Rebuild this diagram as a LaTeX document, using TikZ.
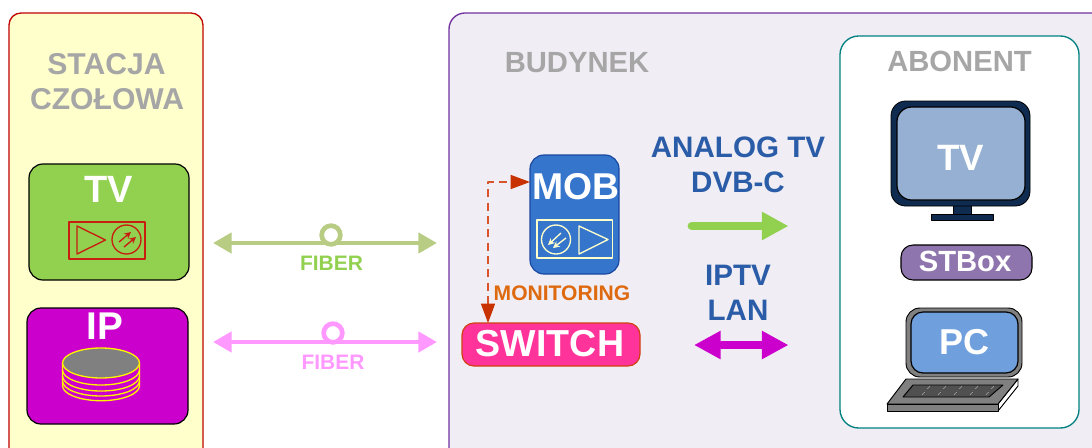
\documentclass[tikz,border=0pt]{standalone}
\usepackage{fontspec}
\setmainfont{Liberation Sans}
\usetikzlibrary{arrows.meta,calc}
\definecolor{pgreen}{HTML}{92D050}
\definecolor{pmag}{HTML}{CC00CC}
\definecolor{pfibg}{HTML}{B8CC84}
\definecolor{pfibp}{HTML}{FF99FF}
\definecolor{pblue}{HTML}{2A5CA8}
\definecolor{pgrey}{HTML}{A6A6A6}
\definecolor{pnavy}{HTML}{0F2B50}
\definecolor{pdash}{HTML}{C83200}
\definecolor{pline}{HTML}{D8542A}
\definecolor{pamp}{HTML}{C81E10}
\definecolor{pcream}{HTML}{FFFFCC}
\tikzset{
  lab/.style={font=\fontsize{#1}{#1}\selectfont\bfseries,anchor=base,inner sep=0pt,outer sep=0pt},
  head/.style={lab=21.9,text=pgrey},
  blue label/.style={lab=22.2,text=pblue},
  boxnode/.style={rectangle,inner sep=0pt,outer sep=0pt,anchor=north west},
  ring/.style={circle,draw=#1,line width=3.5pt,fill=white,minimum size=14pt,inner sep=0pt},
  fibertip/.tip={Triangle[length=14pt,width=15pt]},
  fatttip/.tip={Triangle[length=20pt,width=20pt]},
  dashtip/.tip={Triangle[length=14.5pt,width=10.5pt,fill=pdash,color=pdash]},
}
% #1 name, #2 x0, #3 y0, #4 x1, #5 y1, #6 options
\newcommand{\pxbox}[6]{\path let \p1=($(#4,#5)-(#2,#3)$) in node[boxnode,minimum width=abs(\x1),minimum height=abs(\y1),#6] (#1) at (#2,#3) {};}
\begin{document}
\begin{tikzpicture}[x=0.75pt,y=-0.75pt,line join=round]
\useasboundingbox (0,0) rectangle (1092,447);
\clip (0,0) rectangle (1092,447);
\fill[white] (0,0) rectangle (1092,447);
% panels
\pxbox{stacja}{9}{13}{203}{470}{draw={rgb,255:red,192;green,0;blue,0},line width=1pt,fill={rgb,255:red,255;green,255;blue,204},rounded corners=9pt}
\pxbox{budynek}{449}{13}{1130}{470}{draw={rgb,255:red,112;green,48;blue,160},line width=1pt,fill={rgb,255:red,240;green,238;blue,244},rounded corners=12pt}
\pxbox{abonent}{840}{36}{1079}{428}{draw={rgb,255:red,0;green,128;blue,128},line width=1pt,fill=white,rounded corners=14pt}
% headings
\node[head,lab=22.6,text=pgrey] (h1) at (106.5,74.5) {STACJA};
\node[head,lab=22.6,text=pgrey] (h2) at (107,109.5) {CZOŁOWA};
\node[head] (h3) at (577,72) {BUDYNEK};
\node[head] (h4) at (959.5,71) {ABONENT};
% TV box
\pxbox{tvbox}{29}{164}{189}{280}{draw=black,line width=0.9pt,fill=pgreen,rounded corners=10.5pt}
\node[lab=28.5,text=white] (tvtxt) at (109,202) {TV};
\pxbox{ampA}{69}{222}{145}{259}{draw=pamp,line width=1pt}
\draw[pamp,line width=1pt] (77,226) -- (105.5,240) -- (77,254) -- cycle;
\draw[pamp,line width=1pt] (126.5,239.5) circle[radius=14.5];
\draw[pamp,line width=1pt,-{Stealth[length=5pt,width=5pt]}] (119,242) -- (131,232);
\draw[pamp,line width=1pt,-{Stealth[length=5pt,width=5pt]}] (124,247) -- (136,237);
% IP box
\pxbox{ipbox}{27}{308}{188}{424}{draw=black,line width=0.9pt,fill=pmag,rounded corners=10.5pt}
\node[lab=29,text=white] (iptxt) at (105,339.3) {IP};
\draw[yellow,line width=1pt,fill=pmag] (62.5,363) -- (62.5,385.7) arc[start angle=180,end angle=0,x radius=38.5,y radius=15] -- (139.5,363);
\foreach \yy in {381,376,370}{
  \draw[yellow,line width=1pt] (62.5,\yy) arc[start angle=180,end angle=0,x radius=38.5,y radius=15];
}
\draw[yellow,line width=1pt,fill={rgb,255:red,128;green,128;blue,128}] (101,363) ellipse[x radius=38.5,y radius=15];
% fiber links
\coordinate (g1) at (213,243);
\coordinate (g2) at (437,243);
\coordinate (p1) at (213,342);
\coordinate (p2) at (437,342);
\draw[pfibg,line width=3.3pt,{fibertip}-{fibertip}] (g1) -- (g2);
\node[ring=pfibg] (gc) at (331,235) {};
\node[lab=15.7,text=pgreen] (f1) at (331.5,270) {FIBER};
\draw[pfibp,line width=3.3pt,{fibertip}-{fibertip}] (p1) -- (p2);
\node[ring=pfibp] (pc) at (333,333) {};
\node[lab=15.7,text=pfibp] (f2) at (333,369) {FIBER};
% MOB
\pxbox{mob}{530}{155}{619}{274}{draw={rgb,255:red,26;green,72;blue,160},line width=0.9pt,fill={rgb,255:red,53;green,117;blue,204},rounded corners=10.5pt}
\node[lab=28,text=white] (mobtxt) at (576,199.3) {MOB};
\pxbox{ampB}{537}{220}{612.7}{258}{draw=pcream,line width=1pt}
\draw[pcream,line width=1pt] (579,226) -- (608,239.5) -- (579,254) -- cycle;
\draw[pcream,line width=1pt] (556,239.5) circle[radius=14.5];
\draw[pcream,line width=1pt,-{Stealth[length=5pt,width=5pt]}] (561,233) -- (548,245);
\draw[pcream,line width=1pt,-{Stealth[length=5pt,width=5pt]}] (566,238) -- (553,248);
\node[lab=15.8,text={rgb,255:red,222;green,105;blue,15}] (mon) at (562,300.7) {MONITORING};
% SWITCH
\pxbox{sw}{462}{323}{640}{366}{draw={rgb,255:red,208;green,64;blue,16},line width=0.9pt,fill={rgb,255:red,255;green,51;blue,153},rounded corners=9pt}
\node[lab=28.2,text=white] (swtxt) at (550,356.7) {SWITCH};
\coordinate (swtop) at (488,323);
\coordinate (mobleft) at (530,182);
\draw[pline,line width=1.1pt,dash pattern=on 6pt off 4pt,{dashtip}-{dashtip}] (swtop) -- (swtop |- mobleft) -- (mobleft);
% transmission labels and arrows
\node[blue label] (an) at (738,157.5) {ANALOG TV};
\node[blue label] (dvb) at (738,192.5) {DVB-C};
\node[blue label] (iptv) at (738,285.5) {IPTV};
\node[blue label] (lan) at (738,320.5) {LAN};
\coordinate (a1) at (692,226);
\coordinate (a2) at (788.5,226);
\coordinate (b1) at (694,345);
\coordinate (b2) at (788.5,345);
\draw[pgreen,line width=6.6pt,line cap=round,-{fatttip}] (a1) -- (a2);
\draw[pmag,line width=5.5pt,{fatttip}-{fatttip}] (b1) -- (b2);
% TV icon
\filldraw[fill=pnavy,draw=black,line width=0.6pt] (953,205) rectangle (971,214);
\filldraw[fill=pnavy,draw=black,line width=0.6pt] (931,214) rectangle (993,220);
\pxbox{tvout}{891}{101}{1030}{206}{draw=black,line width=0.6pt,fill=pnavy,rounded corners=11pt}
\pxbox{tvin}{897}{107}{1025}{200}{draw=black,line width=0.9pt,fill={rgb,255:red,149;green,176;blue,210},rounded corners=11pt}
\node[lab=27.5,text=white] (tv2) at (961,170) {TV};
% STBox
\pxbox{st}{901}{245}{1032}{280}{draw=black,line width=0.8pt,fill={rgb,255:red,143;green,117;blue,173},rounded corners=9pt}
\node[lab=21.9,text=white] (sttxt) at (965,271.7) {STBox};
% PC icon
\pxbox{pcout}{906}{308}{1022}{377}{draw=black,line width=0.7pt,fill={rgb,255:red,128;green,128;blue,128},rounded corners=10.5pt}
\pxbox{pcin}{911}{312}{1018}{373}{draw=black,line width=0.9pt,fill={rgb,255:red,111;green,159;blue,221},rounded corners=9pt}
\node[lab=27,text=white] (pctxt) at (964,354.3) {PC};
\draw[black,line width=0.7pt,fill=white] (1018,379) -- (1018,386) -- (998,411) -- (998,404) -- cycle;
\draw[black,line width=0.7pt,fill={rgb,255:red,128;green,128;blue,128}] (906,379) -- (1018,379) -- (998,404) -- (887,404) -- cycle;
\draw[black,line width=0.7pt,fill={rgb,255:red,128;green,128;blue,128}] (887,404) rectangle (998,411);
\draw[black,line width=0.7pt,fill={rgb,255:red,80;green,80;blue,80}] (913,385) -- (1003,385) -- (989,397) -- (903,397) -- cycle;
\foreach \xx in {930,946,962,978,994}{
  \draw[gray!70,line width=0.4pt,dashed] (\xx,386) -- (\xx-9,396);
}
\end{tikzpicture}
\end{document}
